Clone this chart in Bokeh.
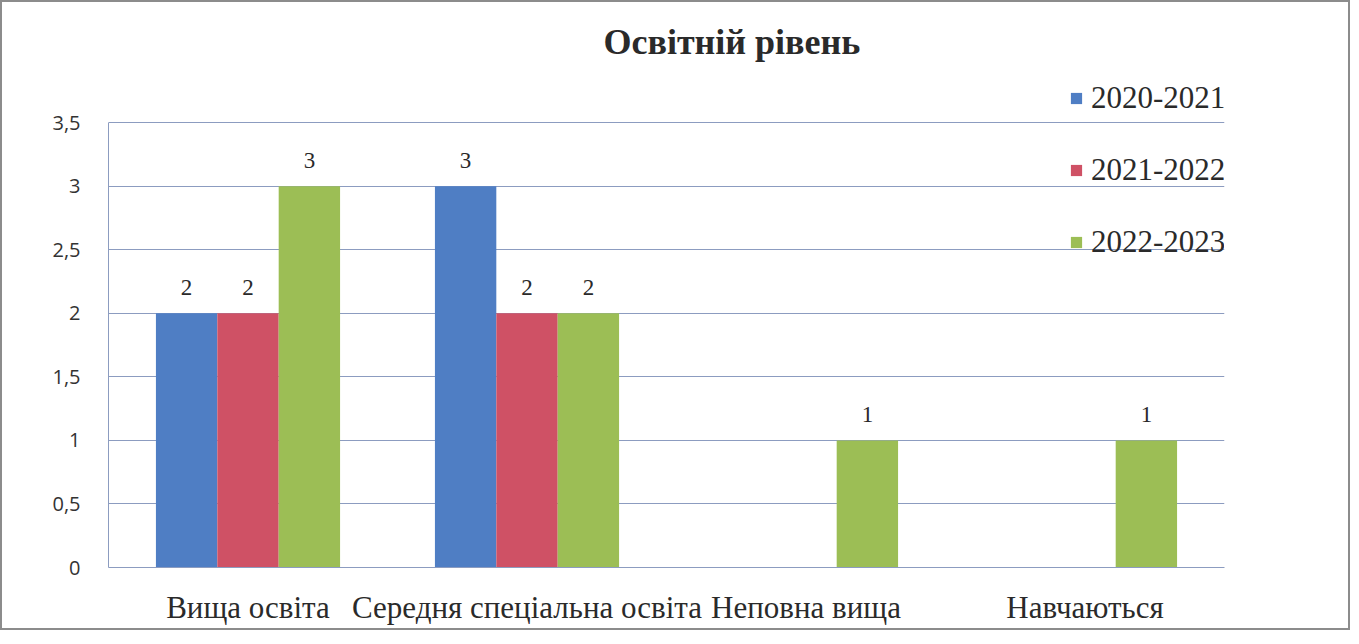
from bokeh.plotting import figure
from bokeh.models import ColumnDataSource, FixedTicker, Legend, LegendItem, Title
from bokeh.transform import dodge
from bokeh.core.properties import value
from bokeh.embed import file_html
from bokeh.resources import INLINE

categories = ["Вища освіта", "Середня спеціальна освіта", "Неповна вища", "Навчаються"]
series = ["2020-2021", "2021-2022", "2022-2023"]
v2020 = [2, 3, 0, 0]
v2021 = [2, 2, 0, 0]
v2022 = [3, 2, 1, 1]
colors = ["#4F7EC4", "#CF5165", "#9CBE55"]
y_ticks = [0, 0.5, 1, 1.5, 2, 2.5, 3, 3.5]
y_tick_labels = ["0", "0,5", "1", "1,5", "2", "2,5", "3", "3,5"]

values = [v2020, v2021, v2022]
offsets = [-0.22, 0.0, 0.22]

p = figure(x_range=categories, y_range=(0, 3.84), width=1350, height=630,
           output_backend="svg", toolbar_location=None,
           min_border_left=106, min_border_right=128, min_border_top=40, min_border_bottom=65)
p.styles = {"border": "2px solid #8c8c8c", "box-sizing": "border-box"}
p.x_range.range_padding = 0

serif = value("Liberation Serif")
grid_color = "#8C9CC0"

items = []
for name, vals, off, col in zip(series, values, offsets, colors):
    src = ColumnDataSource(dict(cat=categories, val=vals,
                                lbl=[str(v) if v > 0 else "" for v in vals]))
    r = p.vbar(x=dodge("cat", off, range=p.x_range), top="val", width=0.22,
               source=src, fill_color=col, line_color=None)
    p.text(x=dodge("cat", off, range=p.x_range), y="val", text="lbl", source=src,
           text_align="center", text_baseline="alphabetic", y_offset=-26,
           text_font=serif, text_font_size="23px", text_color="#2a2a2a")
    items.append(LegendItem(label=name, renderers=[r]))

legend = Legend(items=items, location=(961, 307), orientation="vertical",
                label_text_font="Liberation Serif", label_text_font_size="31px",
                label_text_color="#2a2a2a", glyph_width=14, glyph_height=14,
                label_height=30, spacing=36, label_standoff=8, padding=0, margin=0,
                background_fill_alpha=0, border_line_alpha=0)
p.add_layout(legend)

p.title = Title(text="Освітній рівень", align="left", offset=495, standoff=35,
                text_font="Liberation Serif", text_font_size="36px",
                text_font_style="bold", text_color="#2a2a2a")

p.yaxis.ticker = FixedTicker(ticks=y_ticks)
p.yaxis.bounds = (0, 3.5)
p.yaxis.major_label_overrides = {t: l for t, l in zip(y_ticks, y_tick_labels)}
p.yaxis.major_label_text_font = "Open Sans"
p.yaxis.major_label_text_font_size = "20px"
p.yaxis.major_label_text_color = "#333333"
p.yaxis.major_tick_line_color = None
p.yaxis.minor_tick_line_color = None
p.yaxis.axis_line_color = grid_color
p.yaxis.major_label_standoff = 22

p.xaxis.major_label_text_font = "Liberation Serif"
p.xaxis.major_label_text_font_size = "31px"
p.xaxis.major_label_text_color = "#2a2a2a"
p.xaxis.major_tick_line_color = None
p.xaxis.axis_line_color = grid_color
p.xaxis.major_label_standoff = 16

p.xgrid.grid_line_color = None
p.ygrid.grid_line_color = grid_color
p.ygrid.grid_line_width = 1.2
p.outline_line_color = None

open("out.html", "w").write(file_html(p, INLINE))
